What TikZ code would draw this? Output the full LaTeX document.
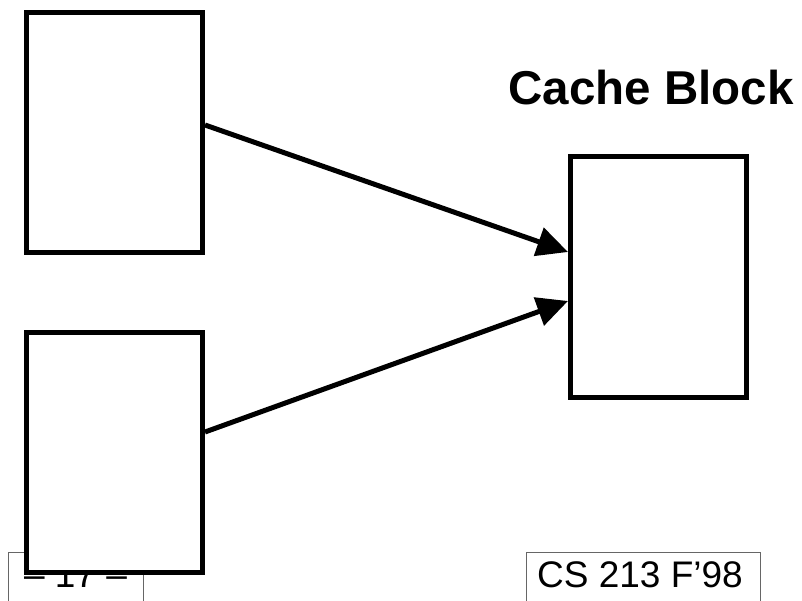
\documentclass[tikz,border=0pt]{standalone}
\usepackage{fontspec}
\setmainfont{Liberation Sans}
\usetikzlibrary{arrows.meta}
\tikzset{
  blockbox/.style={draw=black, fill=white, line width=5pt, inner sep=0pt,
    minimum width=176pt, minimum height=240pt},
  bigarrow/.style={line width=5pt, -{Triangle[length=31pt,width=29pt]}},
  footline/.style={draw=black!60, line width=1pt},
  foottext/.style={font=\fontsize{37}{41}\selectfont, inner sep=0pt}
}
\begin{document}
\begin{tikzpicture}[x=1pt,y=-1pt]
\useasboundingbox (0,0) rectangle (802,601);
% footer boxes
\draw[footline] (8,601) -- (8,552) -- (143,552) -- (143,601);
\node[foottext, anchor=base] (pg) at (75.5,587) {– 17 –};
\draw[footline] (526,601) -- (526,552) -- (760,552) -- (760,601);
\node[foottext, anchor=base west] (cs) at (537,587) {CS 213 F’98};
% blocks
\node[blockbox] (A) at (114.5,132.5) {};
\node[blockbox] (B) at (114.5,452.5) {};
\node[blockbox, minimum height=241pt] (C) at (658.5,277) {};
\node[font=\bfseries\fontsize{47.5}{52}\selectfont, inner sep=0pt, anchor=base] (title) at (651,105) {Cache Block};
% arrows
\draw[bigarrow] ([yshift=7.5pt]A.east) -- ([yshift=25pt]C.west);
\draw[bigarrow] ([yshift=20.5pt]B.east) -- ([yshift=-24pt]C.west);
\end{tikzpicture}
\end{document}
